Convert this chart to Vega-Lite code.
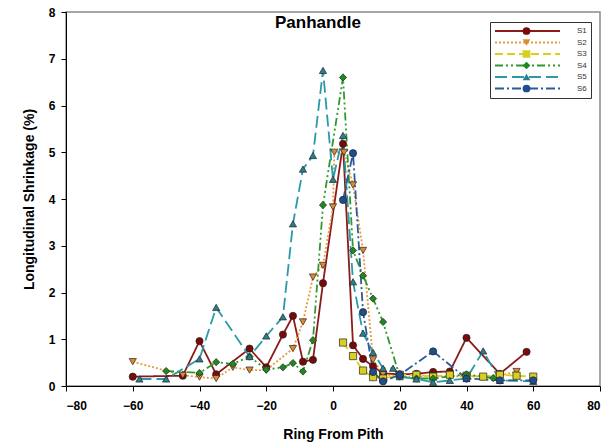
{
  "$schema": "https://vega.github.io/schema/vega-lite/v6.json",
  "width": 534,
  "height": 374,
  "autosize": {"type": "none"},
  "padding": {"left": 66, "top": 12, "right": 12, "bottom": 58},
  "background": "white",
  "config": {
    "font": "Liberation Sans",
    "view": {"stroke": "#8a8a8a", "strokeWidth": 1.5},
    "axis": {"grid": false, "domainColor": "#000", "tickColor": "#000", "labelColor": "#000", "titleColor": "#000", "labelFont": "Liberation Sans", "titleFont": "Liberation Sans", "labelFontWeight": "bold", "titleFontWeight": "bold", "labelFontSize": 12, "titleFontSize": 14, "tickSize": 5}
  },
  "title": {"text": "Panhandle", "fontSize": 17, "fontWeight": "bold", "font": "Liberation Sans", "color": "#000", "offset": -26, "dx": -15, "anchor": "middle"},
  "data": {"values": [
    {"s": "S1", "x": -60, "y": 0.2}, {"s": "S1", "x": -45, "y": 0.22}, {"s": "S1", "x": -40, "y": 0.96}, {"s": "S1", "x": -35, "y": 0.25}, {"s": "S1", "x": -25, "y": 0.8}, {"s": "S1", "x": -20, "y": 0.4}, {"s": "S1", "x": -15, "y": 1.1}, {"s": "S1", "x": -12, "y": 1.5}, {"s": "S1", "x": -9, "y": 0.52}, {"s": "S1", "x": -6, "y": 0.56}, {"s": "S1", "x": -3, "y": 2.2}, {"s": "S1", "x": 3, "y": 5.18}, {"s": "S1", "x": 6, "y": 0.87}, {"s": "S1", "x": 9, "y": 0.58}, {"s": "S1", "x": 12, "y": 0.42}, {"s": "S1", "x": 15, "y": 0.27}, {"s": "S1", "x": 20, "y": 0.25}, {"s": "S1", "x": 25, "y": 0.26}, {"s": "S1", "x": 30, "y": 0.3}, {"s": "S1", "x": 35, "y": 0.31}, {"s": "S1", "x": 40, "y": 1.03}, {"s": "S1", "x": 50, "y": 0.26}, {"s": "S1", "x": 58, "y": 0.73},
    {"s": "S2", "x": -60, "y": 0.52}, {"s": "S2", "x": -45, "y": 0.23}, {"s": "S2", "x": -40, "y": 0.19}, {"s": "S2", "x": -35, "y": 0.16}, {"s": "S2", "x": -30, "y": 0.4}, {"s": "S2", "x": -25, "y": 0.34}, {"s": "S2", "x": -20, "y": 0.34}, {"s": "S2", "x": -12, "y": 0.8}, {"s": "S2", "x": -9, "y": 1.37}, {"s": "S2", "x": -6, "y": 2.33}, {"s": "S2", "x": -3, "y": 2.58}, {"s": "S2", "x": 0, "y": 3.83}, {"s": "S2", "x": 0.4, "y": 5.0}, {"s": "S2", "x": 3.3, "y": 5.0}, {"s": "S2", "x": 6, "y": 4.3}, {"s": "S2", "x": 9, "y": 2.9}, {"s": "S2", "x": 12, "y": 0.56}, {"s": "S2", "x": 15, "y": 0.25}, {"s": "S2", "x": 20, "y": 0.2}, {"s": "S2", "x": 25, "y": 0.2}, {"s": "S2", "x": 30, "y": 0.22}, {"s": "S2", "x": 40, "y": 0.2}, {"s": "S2", "x": 50, "y": 0.22}, {"s": "S2", "x": 55, "y": 0.31},
    {"s": "S3", "x": 3, "y": 0.93}, {"s": "S3", "x": 6, "y": 0.64}, {"s": "S3", "x": 9, "y": 0.33}, {"s": "S3", "x": 12, "y": 0.19}, {"s": "S3", "x": 15, "y": 0.16}, {"s": "S3", "x": 20, "y": 0.24}, {"s": "S3", "x": 25, "y": 0.24}, {"s": "S3", "x": 30, "y": 0.2}, {"s": "S3", "x": 35, "y": 0.24}, {"s": "S3", "x": 40, "y": 0.22}, {"s": "S3", "x": 45, "y": 0.2}, {"s": "S3", "x": 50, "y": 0.24}, {"s": "S3", "x": 55, "y": 0.22}, {"s": "S3", "x": 60, "y": 0.2},
    {"s": "S4", "x": -50, "y": 0.32}, {"s": "S4", "x": -40, "y": 0.28}, {"s": "S4", "x": -35, "y": 0.51}, {"s": "S4", "x": -30, "y": 0.47}, {"s": "S4", "x": -25, "y": 0.63}, {"s": "S4", "x": -20, "y": 0.35}, {"s": "S4", "x": -15, "y": 0.4}, {"s": "S4", "x": -12, "y": 0.49}, {"s": "S4", "x": -9, "y": 0.31}, {"s": "S4", "x": -6, "y": 0.98}, {"s": "S4", "x": -3, "y": 3.87}, {"s": "S4", "x": 3, "y": 6.6}, {"s": "S4", "x": 6, "y": 2.9}, {"s": "S4", "x": 9, "y": 2.36}, {"s": "S4", "x": 12, "y": 1.87}, {"s": "S4", "x": 15, "y": 1.37}, {"s": "S4", "x": 20, "y": 0.2}, {"s": "S4", "x": 25, "y": 0.16}, {"s": "S4", "x": 30, "y": 0.16}, {"s": "S4", "x": 40, "y": 0.25}, {"s": "S4", "x": 48, "y": 0.17},
    {"s": "S5", "x": -58, "y": 0.15}, {"s": "S5", "x": -50, "y": 0.15}, {"s": "S5", "x": -40, "y": 0.58}, {"s": "S5", "x": -35, "y": 1.68}, {"s": "S5", "x": -25, "y": 0.63}, {"s": "S5", "x": -20, "y": 1.07}, {"s": "S5", "x": -15, "y": 1.48}, {"s": "S5", "x": -12, "y": 3.47}, {"s": "S5", "x": -9, "y": 4.64}, {"s": "S5", "x": -6, "y": 4.93}, {"s": "S5", "x": -3, "y": 6.75}, {"s": "S5", "x": 0, "y": 4.42}, {"s": "S5", "x": 3, "y": 5.36}, {"s": "S5", "x": 6, "y": 2.23}, {"s": "S5", "x": 9, "y": 1.13}, {"s": "S5", "x": 12, "y": 0.72}, {"s": "S5", "x": 15, "y": 0.38}, {"s": "S5", "x": 18, "y": 0.38}, {"s": "S5", "x": 20, "y": 0.2}, {"s": "S5", "x": 25, "y": 0.15}, {"s": "S5", "x": 30, "y": 0.08}, {"s": "S5", "x": 35, "y": 0.12}, {"s": "S5", "x": 40, "y": 0.16}, {"s": "S5", "x": 45, "y": 0.75}, {"s": "S5", "x": 50, "y": 0.12}, {"s": "S5", "x": 60, "y": 0.1},
    {"s": "S6", "x": 3, "y": 3.98}, {"s": "S6", "x": 6, "y": 4.98}, {"s": "S6", "x": 9, "y": 1.58}, {"s": "S6", "x": 12, "y": 0.3}, {"s": "S6", "x": 15, "y": 0.1}, {"s": "S6", "x": 20, "y": 0.24}, {"s": "S6", "x": 30, "y": 0.74}, {"s": "S6", "x": 40, "y": 0.16}, {"s": "S6", "x": 50, "y": 0.12}, {"s": "S6", "x": 60, "y": 0.12}
  ]},
  "encoding": {
    "x": {"field": "x", "type": "quantitative", "scale": {"domain": [-80, 80], "nice": false}, "axis": {"values": [-80, -60, -40, -20, 0, 20, 40, 60, 80], "title": "Ring From Pith", "titlePadding": 16, "labelPadding": 9}},
    "y": {"field": "y", "type": "quantitative", "scale": {"domain": [0, 8], "nice": false}, "axis": {"values": [0, 1, 2, 3, 4, 5, 6, 7, 8], "title": "Longitudinal Shrinkage (%)", "titlePadding": 12, "labelPadding": 6}}
  },
  "resolve": {"legend": {"fill": "independent", "shape": "independent"}},
  "layer": [
    {
      "mark": {"type": "line", "strokeWidth": 1.8},
      "encoding": {
        "color": {"field": "s", "type": "nominal", "scale": {"domain": ["S1", "S2", "S3", "S4", "S5", "S6"], "range": ["#8b1a1a", "#e89a3c", "#d8d020", "#2e9a2e", "#2a9aaa", "#2b5c9a"]},
          "legend": {"orient": "none", "legendX": 424, "legendY": 10, "title": null, "symbolType": "M-1,0H12", "symbolSize": 100, "symbolStrokeWidth": 2, "labelFontSize": 8, "labelColor": "#333", "rowPadding": 1.5, "clipHeight": 10, "strokeColor": "#333", "padding": 4, "fillColor": "white", "labelOffset": 71, "zindex": 1}},
        "strokeDash": {"field": "s", "type": "nominal", "scale": {"domain": ["S1", "S2", "S3", "S4", "S5", "S6"], "range": [[1, 0], [2, 2], [8, 4], [8, 3, 2, 3, 2, 3], [12, 5], [9, 3, 2, 3]]}, "legend": {"orient": "none", "legendX": 424, "legendY": 10}}
      }
    },
    {
      "mark": {"type": "point", "filled": true, "size": 52, "stroke": "#222", "strokeWidth": 0.7, "opacity": 1},
      "encoding": {
        "fill": {"field": "s", "type": "nominal", "scale": {"domain": ["S1", "S2", "S3", "S4", "S5", "S6"], "range": ["#7a0a0a", "#e08a30", "#d8d020", "#1e8a1e", "#2a7f8f", "#1f4e8c"]}, "legend": null},
        "shape": {"field": "s", "type": "nominal", "scale": {"domain": ["S1", "S2", "S3", "S4", "S5", "S6"], "range": ["circle", "triangle-down", "square", "diamond", "triangle-up", "circle"]},
          "legend": {"orient": "none", "legendX": 424, "legendY": 10, "title": null, "symbolSize": 60, "symbolOffset": 28, "symbolStrokeColor": "#222", "symbolStrokeWidth": 0.7, "labelFontSize": 8, "labelColor": "transparent", "rowPadding": 1.5, "clipHeight": 10, "padding": 4, "zindex": 2}}
      }
    }
  ]
}
